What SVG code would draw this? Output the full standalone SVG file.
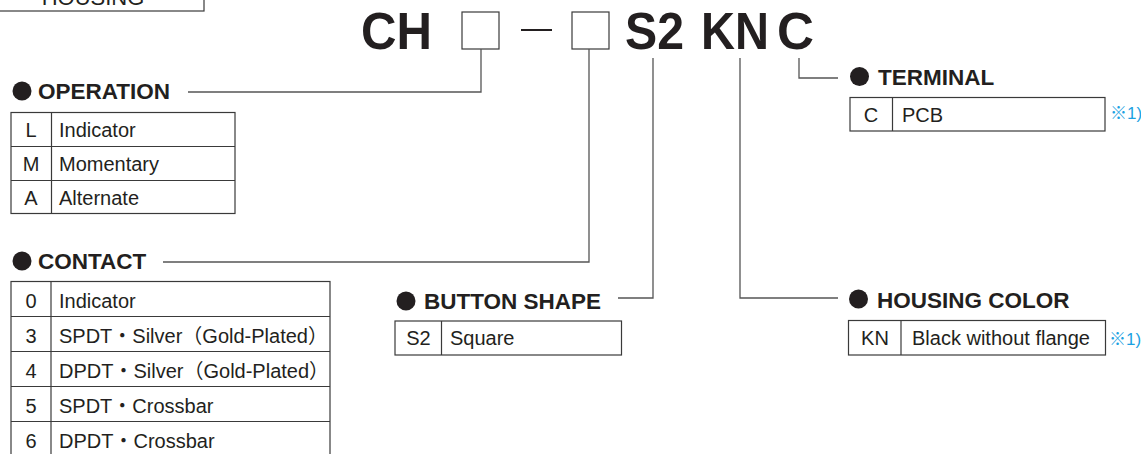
<svg xmlns="http://www.w3.org/2000/svg" width="1141" height="454" viewBox="0 0 1141 454">
<style>
.t{font-family:"Liberation Sans",Arial,"Noto Sans CJK JP",sans-serif;fill:#231f20}
.title{font-size:51px;font-weight:bold}
.h{font-size:22.5px;font-weight:bold}
.c{font-size:20px}
.m{text-anchor:middle}
.n{font-family:"Liberation Sans",Arial,"Noto Sans CJK JP",sans-serif;font-size:17px;fill:#1ba1e2}
.box{fill:#fff;stroke:#3a3a3a;stroke-width:1.2}
.ln{fill:none;stroke:#3a3a3a;stroke-width:1.2}
.cn{fill:none;stroke:#555;stroke-width:1.3}
.dot{fill:#231f20}
</style>
<rect width="1141" height="454" fill="#fff"/>

<g id="housing-top">
<rect class="box" x="-2" y="-40" width="206" height="51"/>
<text class="t m" x="93" y="5" font-size="22">HOUSING</text>
</g>

<g id="model-code">
<text class="t title" x="361" y="49" textLength="71" lengthAdjust="spacingAndGlyphs">CH</text>
<rect class="ln" x="462" y="12" width="37" height="37"/>
<line x1="521" y1="30" x2="552" y2="30" stroke="#231f20" stroke-width="2"/>
<rect class="ln" x="572" y="12" width="37" height="37"/>
<text class="t title" x="625" y="49" textLength="59" lengthAdjust="spacingAndGlyphs">S2</text>
<text class="t title" x="701" y="49" textLength="68" lengthAdjust="spacingAndGlyphs">KN</text>
<text class="t title" x="777" y="49" textLength="37" lengthAdjust="spacingAndGlyphs">C</text>
</g>

<g id="connectors">
<polyline class="cn" points="481,49 481,92 188,92"/>
<polyline class="cn" points="589,49 589,262 163,262"/>
<polyline class="cn" points="653,58 653,298 618,298"/>
<polyline class="cn" points="740,58 740,298 838,298"/>
<polyline class="cn" points="799,58 799,78 838,78"/>
</g>

<g id="operation">
<circle class="dot" cx="22" cy="91" r="9.5"/>
<text class="t h" x="38" y="99">OPERATION</text>
<rect class="box" x="11" y="112.5" width="224" height="101"/>
<line class="ln" x1="11" y1="146.5" x2="235" y2="146.5"/>
<line class="ln" x1="11" y1="180.5" x2="235" y2="180.5"/>
<line class="ln" x1="51.5" y1="112.5" x2="51.5" y2="213.5"/>
<text class="t c m" x="31" y="136.5">L</text>
<text class="t c" x="59" y="136.5">Indicator</text>
<text class="t c m" x="31" y="170.5">M</text>
<text class="t c" x="59" y="170.5">Momentary</text>
<text class="t c m" x="31" y="204.5">A</text>
<text class="t c" x="59" y="204.5">Alternate</text>
</g>

<g id="contact">
<circle class="dot" cx="22" cy="261" r="9.5"/>
<text class="t h" x="38" y="268.5">CONTACT</text>
<rect class="box" x="11" y="281.5" width="319" height="200"/>
<line class="ln" x1="11" y1="316.5" x2="330" y2="316.5"/>
<line class="ln" x1="11" y1="351.5" x2="330" y2="351.5"/>
<line class="ln" x1="11" y1="386.5" x2="330" y2="386.5"/>
<line class="ln" x1="11" y1="421.5" x2="330" y2="421.5"/>
<line class="ln" x1="51" y1="281.5" x2="51" y2="454"/>
<text class="t c m" x="31" y="308">0</text>
<text class="t c" x="59" y="308">Indicator</text>
<text class="t c m" x="31" y="343">3</text>
<text class="t c" x="59" y="343">SPDT・Silver（Gold-Plated）</text>
<text class="t c m" x="31" y="378">4</text>
<text class="t c" x="59" y="378">DPDT・Silver（Gold-Plated）</text>
<text class="t c m" x="31" y="413">5</text>
<text class="t c" x="59" y="413">SPDT・Crossbar</text>
<text class="t c m" x="31" y="448">6</text>
<text class="t c" x="59" y="448">DPDT・Crossbar</text>
</g>

<g id="button-shape">
<circle class="dot" cx="406" cy="301" r="9.5"/>
<text class="t h" x="424" y="308.5">BUTTON SHAPE</text>
<rect class="box" x="395" y="321" width="226.5" height="34"/>
<line class="ln" x1="441.5" y1="321" x2="441.5" y2="355"/>
<text class="t c m" x="418.5" y="345">S2</text>
<text class="t c" x="450" y="345">Square</text>
</g>

<g id="housing-color">
<circle class="dot" cx="858.5" cy="299" r="9.5"/>
<text class="t h" x="877" y="307.5">HOUSING COLOR</text>
<rect class="box" x="848.5" y="320.5" width="257" height="34.5"/>
<line class="ln" x1="901" y1="320.5" x2="901" y2="355"/>
<text class="t c m" x="875" y="345">KN</text>
<text class="t c" x="912" y="345">Black without flange</text>
<text class="n" x="1109" y="345">※1)</text>
</g>

<g id="terminal">
<circle class="dot" cx="859.5" cy="76.5" r="9.5"/>
<text class="t h" x="878" y="85">TERMINAL</text>
<rect class="box" x="850" y="97.5" width="255" height="33.5"/>
<line class="ln" x1="892.5" y1="97.5" x2="892.5" y2="131"/>
<text class="t c m" x="871" y="121.5">C</text>
<text class="t c" x="902" y="121.5">PCB</text>
<text class="n" x="1110" y="118.5">※1)</text>
</g>
</svg>
